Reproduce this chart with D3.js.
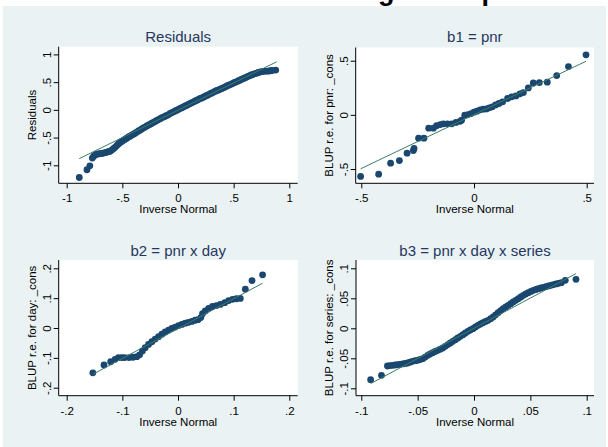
<!DOCTYPE html>
<html>
<head>
<meta charset="utf-8">
<script src="https://cdn.jsdelivr.net/npm/d3@7"></script>
<style>
  html, body { margin: 0; padding: 0; background: #ffffff; }
  svg { display: block; }
  text { font-family: "Liberation Sans", Arial, Helvetica, sans-serif; }
</style>
</head>
<body>
<svg id="chart" width="608" height="447"></svg>
<script>
// ---------------- DATA ----------------
const mainTitle = "Mixed model: diagnostic plots";
const panelTitles = ["Residuals", "b1 = pnr", "b2 = pnr x day", "b3 = pnr x day x series"];
const yAxisTitles = ["Residuals", "BLUP r.e. for pnr: _cons", "BLUP r.e. for day: _cons", "BLUP r.e. for series: _cons"];
const xAxisTitle = "Inverse Normal";

const xTicks1 = [-1, -0.5, 0, 0.5, 1];        const xLabels1 = ["-1", "-.5", "0", ".5", "1"];
const yTicks1 = [-1, -0.5, 0, 0.5, 1];        const yLabels1 = ["-1", "-.5", "0", ".5", "1"];
const xTicks2 = [-0.5, 0, 0.5];               const xLabels2 = ["-.5", "0", ".5"];
const yTicks2 = [-0.5, 0, 0.5];               const yLabels2 = ["-.5", "0", ".5"];
const xTicks3 = [-0.2, -0.1, 0, 0.1, 0.2];    const xLabels3 = ["-.2", "-.1", "0", ".1", ".2"];
const yTicks3 = [-0.2, -0.1, 0, 0.1, 0.2];    const yLabels3 = ["-.2", "-.1", "0", ".1", ".2"];
const xTicks4 = [-0.1, -0.05, 0, 0.05, 0.1];  const xLabels4 = ["-.1", "-.05", "0", ".05", ".1"];
const yTicks4 = [-0.1, -0.05, 0, 0.05, 0.1];  const yLabels4 = ["-.1", "-.05", "0", ".05", ".1"];

// [inverse normal, observed]
const residPoints = [
  [-0.887,-1.22],[-0.818,-1.08],[-0.792,-1.01],[-0.770,-0.87],[-0.758,-0.835],[-0.745,-0.815],[-0.730,-0.80],
  [-0.715,-0.795],[-0.700,-0.79],[-0.685,-0.785],[-0.670,-0.78],[-0.655,-0.77],[-0.640,-0.765],[-0.625,-0.755],
  [-0.610,-0.745],[-0.595,-0.725],[-0.580,-0.70],[-0.565,-0.675],[-0.550,-0.645],[-0.535,-0.615],[-0.520,-0.59],
  [-0.505,-0.57],[-0.490,-0.55],[-0.475,-0.53],[-0.460,-0.51],[-0.445,-0.49],[-0.430,-0.475],[-0.415,-0.455],
  [-0.400,-0.44],[-0.385,-0.42],[-0.370,-0.40],[-0.355,-0.38],[-0.340,-0.365],[-0.325,-0.345],[-0.310,-0.325],
  [-0.295,-0.31],[-0.280,-0.29],[-0.265,-0.275],[-0.250,-0.26],[-0.235,-0.24],[-0.220,-0.225],[-0.205,-0.21],
  [-0.190,-0.19],[-0.175,-0.175],[-0.160,-0.16],[-0.145,-0.14],[-0.130,-0.13],[-0.115,-0.115],[-0.100,-0.10],
  [-0.085,-0.085],[-0.070,-0.065],[-0.055,-0.05],[-0.040,-0.035],[-0.025,-0.02],[-0.010,-0.005],[0.005,0.01],
  [0.020,0.025],[0.035,0.04],[0.050,0.055],[0.065,0.07],[0.080,0.085],[0.095,0.10],[0.110,0.115],[0.125,0.13],
  [0.140,0.145],[0.155,0.16],[0.170,0.175],[0.185,0.19],[0.200,0.205],[0.215,0.215],[0.230,0.23],[0.245,0.245],
  [0.260,0.26],[0.275,0.275],[0.290,0.29],[0.305,0.305],[0.320,0.32],[0.335,0.335],[0.350,0.35],[0.365,0.36],
  [0.380,0.375],[0.395,0.385],[0.410,0.40],[0.425,0.415],[0.440,0.43],[0.455,0.445],[0.470,0.455],[0.485,0.47],
  [0.500,0.485],[0.515,0.50],[0.530,0.51],[0.545,0.525],[0.560,0.54],[0.575,0.555],[0.590,0.565],[0.605,0.58],
  [0.620,0.595],[0.635,0.61],[0.650,0.62],[0.665,0.635],[0.680,0.645],[0.695,0.655],[0.710,0.665],[0.725,0.675],
  [0.740,0.685],[0.755,0.69],[0.770,0.695],[0.785,0.70],[0.800,0.70],[0.815,0.70],[0.830,0.705],[0.845,0.71],
  [0.878,0.717]
];
const residLineX = [-0.887, 0.887];
const residLineY = [-0.88, 0.867];

const pnrPoints = [
  [-0.503,-0.569],[-0.423,-0.548],[-0.370,-0.446],[-0.331,-0.422],[-0.297,-0.354],[-0.269,-0.33],[-0.266,-0.31],
  [-0.246,-0.215],[-0.222,-0.215],[-0.201,-0.123],[-0.180,-0.123],[-0.166,-0.10],[-0.150,-0.09],[-0.136,-0.083],
  [-0.118,-0.083],[-0.099,-0.083],[-0.080,-0.07],[-0.062,-0.06],[-0.055,-0.05],[-0.041,-0.003],[-0.027,0.003],
  [-0.013,0.012],[0.000,0.025],[0.013,0.034],[0.027,0.046],[0.041,0.052],[0.055,0.055],[0.068,0.065],
  [0.081,0.074],[0.096,0.092],[0.111,0.105],[0.127,0.12],[0.149,0.151],[0.167,0.166],[0.186,0.175],
  [0.204,0.194],[0.219,0.206],[0.241,0.249],[0.263,0.295],[0.290,0.298],[0.325,0.302],[0.367,0.363],
  [0.419,0.446],[0.497,0.554]
];
const pnrLineX = [-0.503, 0.497];
const pnrLineY = [-0.498, 0.495];

const dayPoints = [
  [-0.153,-0.150],[-0.133,-0.124],[-0.121,-0.113],[-0.113,-0.105],[-0.107,-0.099],[-0.101,-0.099],[-0.096,-0.099],
  [-0.088,-0.099],[-0.081,-0.098],[-0.074,-0.096],[-0.069,-0.090],[-0.064,-0.077],[-0.059,-0.066],[-0.053,-0.055],
  [-0.047,-0.046],[-0.041,-0.037],[-0.035,-0.029],[-0.029,-0.021],[-0.023,-0.013],[-0.017,-0.007],[-0.011,-0.001],
  [-0.005,0.003],[0.001,0.008],[0.007,0.012],[0.013,0.016],[0.019,0.019],[0.025,0.022],[0.031,0.026],
  [0.036,0.028],[0.041,0.035],[0.044,0.048],[0.049,0.057],[0.055,0.066],[0.062,0.072],[0.069,0.075],
  [0.076,0.079],[0.084,0.085],[0.091,0.092],[0.098,0.096],[0.105,0.098],[0.112,0.099],[0.121,0.130],
  [0.133,0.159],[0.152,0.178]
];
const dayLineX = [-0.153, 0.152];
const dayLineY = [-0.155, 0.150];

const seriesPoints = [
  [-0.0917,-0.0856],[-0.0821,-0.0783],[-0.0768,-0.0628],[-0.0745,-0.0622],[-0.0723,-0.0617],[-0.0700,-0.0612],
  [-0.0679,-0.0606],[-0.0656,-0.0600],[-0.0634,-0.0594],[-0.0610,-0.0586],[-0.0589,-0.0578],[-0.0567,-0.0565],
  [-0.0545,-0.0550],[-0.0522,-0.0540],[-0.0500,-0.0533],[-0.0478,-0.0520],[-0.0455,-0.0506],[-0.0433,-0.0480],
  [-0.0411,-0.0450],[-0.0389,-0.0428],[-0.0366,-0.0406],[-0.0344,-0.0386],[-0.0321,-0.0367],[-0.0300,-0.0348],
  [-0.0277,-0.0328],[-0.0255,-0.0300],[-0.0232,-0.0272],[-0.0210,-0.0245],[-0.0188,-0.0217],[-0.0165,-0.0190],
  [-0.0143,-0.0161],[-0.0120,-0.0133],[-0.0098,-0.0106],[-0.0076,-0.0078],[-0.0054,-0.0050],[-0.0032,-0.0028],
  [-0.0009,-0.0006],[0.0013,0.0022],[0.0036,0.0050],[0.0058,0.0072],[0.0080,0.0094],[0.0103,0.0114],
  [0.0125,0.0133],[0.0148,0.0160],[0.0170,0.0189],[0.0192,0.0225],[0.0214,0.0261],[0.0237,0.0295],
  [0.0259,0.0328],[0.0282,0.0356],[0.0304,0.0383],[0.0326,0.0411],[0.0348,0.0439],[0.0371,0.0467],
  [0.0393,0.0494],[0.0416,0.0522],[0.0438,0.0550],[0.0460,0.0572],[0.0482,0.0594],[0.0505,0.0614],
  [0.0527,0.0633],[0.0550,0.0647],[0.0571,0.0661],[0.0594,0.0672],[0.0616,0.0683],[0.0638,0.0694],
  [0.0661,0.0706],[0.0683,0.0717],[0.0705,0.0728],[0.0728,0.0739],[0.0750,0.0750],[0.0775,0.0760],
  [0.0810,0.0800],[0.0905,0.0817]
];
const seriesLineX = [-0.0917, 0.0905];
const seriesLineY = [-0.0922, 0.0911];

// ---------------- LAYOUT / STYLE ----------------
const COL_BG = "#EAF2F3", COL_MARK = "#1A476F", COL_LINE = "#3A7E68", COL_TITLE = "#26375F";
const FONT_TICK = 11.5;

const panels = [
  { title: panelTitles[0], ytitle: yAxisTitles[0], pts: residPoints, lx: residLineX, ly: residLineY,
    xt: xTicks1, xl: xLabels1, yt: yTicks1, yl: yLabels1,
    plot: {x0: 58.7, x1: 297.7, y0: 46.7, y1: 183.3}, xr: [66.7, 289.3], yr: [165.3, 54.4],
    titleY: 42, yLabBase: 50.7, yTitleBase: 35.7 },
  { title: panelTitles[1], ytitle: yAxisTitles[1], pts: pnrPoints, lx: pnrLineX, ly: pnrLineY,
    xt: xTicks2, xl: xLabels2, yt: yTicks2, yl: yLabels2,
    plot: {x0: 355.7, x1: 594, y0: 47.5, y1: 183.3}, xr: [361.3, 586.7], yr: [169, 60.7],
    titleY: 42, yLabBase: 347.5, yTitleBase: 333.2 },
  { title: panelTitles[2], ytitle: yAxisTitles[2], pts: dayPoints, lx: dayLineX, ly: dayLineY,
    xt: xTicks3, xl: xLabels3, yt: yTicks3, yl: yLabels3,
    plot: {x0: 58.7, x1: 297.7, y0: 260, y1: 395.7}, xr: [66.7, 289.3], yr: [387.7, 268.3],
    titleY: 256, yLabBase: 50.7, yTitleBase: 35.7 },
  { title: panelTitles[3], ytitle: yAxisTitles[3], pts: seriesPoints, lx: seriesLineX, ly: seriesLineY,
    xt: xTicks4, xl: xLabels4, yt: yTicks4, yl: yLabels4,
    plot: {x0: 356, x1: 594, y0: 260, y1: 395.7}, xr: [361.3, 586.7], yr: [388.3, 268.3],
    titleY: 256, yLabBase: 347.5, yTitleBase: 333.2 }
];

// ---------------- DRAW ----------------
const svg = d3.select("#chart");
svg.append("rect").attr("x", 0).attr("y", 0).attr("width", 608).attr("height", 447).attr("fill", "#ffffff");
svg.append("rect").attr("x", 3).attr("y", 6).attr("width", 603).attr("height", 441).attr("fill", COL_BG);

// Main title (mostly cropped above the picture, only descenders show)
const titleFont = 27;
const probe = svg.append("text").attr("font-size", titleFont).attr("font-weight", "bold")
  .text(mainTitle.slice(0, mainTitle.indexOf("g")));
const prefixW = probe.node().getComputedTextLength();
probe.remove();
svg.append("text").attr("x", 378 - prefixW).attr("y", -0.5)
  .attr("font-size", titleFont).attr("font-weight", "bold").attr("fill", "#000")
  .text(mainTitle);

panels.forEach(p => {
  const g = svg.append("g");
  const x = d3.scaleLinear().domain([p.xt[0], p.xt[p.xt.length - 1]]).range(p.xr);
  const y = d3.scaleLinear().domain([p.yt[0], p.yt[p.yt.length - 1]]).range(p.yr);

  // plot region
  g.append("rect").attr("x", p.plot.x0).attr("y", p.plot.y0)
    .attr("width", p.plot.x1 - p.plot.x0).attr("height", p.plot.y1 - p.plot.y0).attr("fill", "#fff");

  // subplot title
  g.append("text").attr("x", (p.plot.x0 + p.plot.x1) / 2).attr("y", p.titleY)
    .attr("text-anchor", "middle").attr("font-size", 15).attr("fill", COL_TITLE).text(p.title);

  // x axis
  const xa = g.append("g").attr("transform", `translate(0,${p.plot.y1})`)
    .call(d3.axisBottom(x).tickValues(p.xt).tickFormat((d, i) => p.xl[i]).tickSize(5).tickSizeOuter(0));
  xa.select(".domain").remove();
  xa.selectAll(".tick line").attr("stroke", "#000");
  xa.selectAll(".tick text").attr("y", 19).attr("dy", 0).attr("font-size", FONT_TICK)
    .attr("font-family", "Liberation Sans, Arial, sans-serif").attr("fill", "#000");
  g.append("line").attr("x1", p.plot.x0).attr("x2", p.plot.x1).attr("y1", p.plot.y1).attr("y2", p.plot.y1)
    .attr("stroke", "#000").attr("stroke-width", 1);

  // y axis
  const ya = g.append("g").attr("transform", `translate(${p.plot.x0},0)`)
    .call(d3.axisLeft(y).tickValues(p.yt).tickFormat((d, i) => p.yl[i]).tickSize(5).tickSizeOuter(0));
  ya.select(".domain").remove();
  ya.selectAll(".tick line").attr("stroke", "#000");
  ya.selectAll(".tick text").attr("x", 0).attr("dy", 0)
    .attr("transform", `translate(${p.yLabBase - p.plot.x0},0) rotate(-90)`)
    .attr("text-anchor", "middle").attr("font-size", FONT_TICK)
    .attr("font-family", "Liberation Sans, Arial, sans-serif").attr("fill", "#000");
  g.append("line").attr("x1", p.plot.x0).attr("x2", p.plot.x0).attr("y1", p.plot.y0).attr("y2", p.plot.y1)
    .attr("stroke", "#000").attr("stroke-width", 1);

  // axis titles
  g.append("text").attr("x", (p.plot.x0 + p.plot.x1) / 2).attr("y", p.plot.y1 + 29.8)
    .attr("text-anchor", "middle").attr("font-size", FONT_TICK).attr("fill", "#000").text(xAxisTitle);
  g.append("text").attr("transform", `translate(${p.yTitleBase},${(p.plot.y0 + p.plot.y1) / 2}) rotate(-90)`)
    .attr("text-anchor", "middle").attr("font-size", FONT_TICK).attr("fill", "#000").text(p.ytitle);

  // markers
  g.append("g").selectAll("circle").data(p.pts).join("circle")
    .attr("cx", d => x(d[0])).attr("cy", d => y(d[1])).attr("r", 3.4).attr("fill", COL_MARK);

  // reference line
  g.append("line").attr("x1", x(p.lx[0])).attr("y1", y(p.ly[0])).attr("x2", x(p.lx[1])).attr("y2", y(p.ly[1]))
    .attr("stroke", COL_LINE).attr("stroke-width", 1);
});
</script>
</body>
</html>
